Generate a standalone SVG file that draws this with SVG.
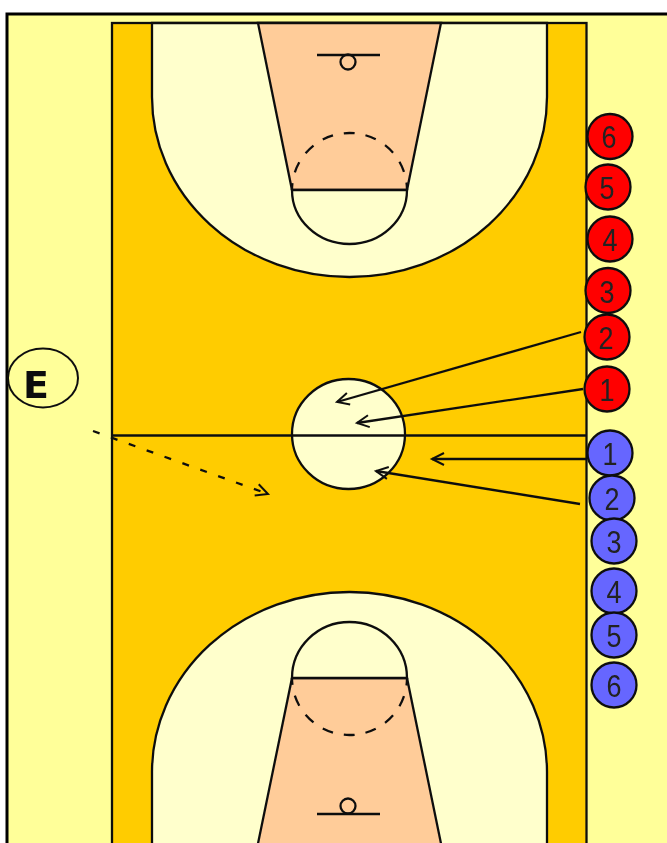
<svg xmlns="http://www.w3.org/2000/svg" width="667" height="843" viewBox="0 0 667 843">
<style>
.l{stroke:#111;stroke-width:2.300;fill:none}
.arc{fill:#FFFFCC;stroke:#111;stroke-width:2.300}
.key{fill:#FFCC99;stroke:#111;stroke-width:2.300}
.d{stroke:#111;stroke-width:2.300;fill:none;stroke-dasharray:11 11}
.c{stroke:#111;stroke-width:2.300;fill:none;marker-end:url(#h)}
.r{fill:#FF0000;stroke:#111;stroke-width:2.300}
.b{fill:#6666FF;stroke:#111;stroke-width:2.300}
.n{font-family:"Liberation Sans",Arial,sans-serif;font-size:32px;fill:#222;text-anchor:middle}
</style>
<defs>
<filter id="s" filterUnits="userSpaceOnUse" x="0" y="0" width="667" height="843"><feGaussianBlur stdDeviation="0.4"/></filter>
<marker id="h" markerUnits="userSpaceOnUse" markerWidth="24" markerHeight="24" refX="15" refY="8" orient="auto">
<path d="M3 2L15 8L3 14" fill="none" stroke="#111" stroke-width="2"/>
</marker>
</defs>
<rect width="667" height="843" fill="#fff"/>
<g filter="url(#s)">
<g id="court">
<rect x="7" y="14" width="680" height="850" fill="#FFFF99" stroke="#000" stroke-width="3"/>
<rect x="112" y="23" width="474.500" height="840" fill="#FFCC00" stroke="#111" stroke-width="2.300"/>
<path class="arc" d="M152 23V97A197.500 180 0 0 0 547 97V23Z"/>
<path class="key" d="M258 23L292 190H407L441 23Z"/>
<path class="arc" d="M292 190A57.500 54 0 0 0 407 190Z"/>
<path class="d" stroke-dashoffset="4" d="M292 190A57.500 57 0 0 1 407 190"/>
<path class="l" d="M317 55H380"/>
<circle class="l" cx="348" cy="62" r="7.500"/>
<ellipse class="arc" cx="348.500" cy="434" rx="56.500" ry="55"/>
<path class="l" d="M112 435.500H586"/>
<path class="arc" d="M152 863V772A197.500 180 0 0 1 547 772V863Z"/>
<path class="key" d="M254 863L292 678H407L445 863Z"/>
<path class="arc" d="M292 678A57.500 56 0 0 1 407 678Z"/>
<path class="d" stroke-dashoffset="4" d="M292 678A57.500 57 0 0 0 407 678"/>
<path class="l" d="M317 814H380"/>
<circle class="l" cx="348" cy="806" r="7.500"/>
</g>
<g id="connectors">
<path class="c" d="M581 332L337 402"/>
<path class="c" d="M583 389L357 423"/>
<path class="c" d="M586 459L432 459"/>
<path class="c" d="M580 504L376 471"/>
<path class="d" d="M93 431L268 494" style="stroke-dasharray:7 12;marker-end:url(#h)"/>
</g>
<g id="coach"><ellipse cx="43" cy="378" rx="35" ry="29.500" fill="none" stroke="#111" stroke-width="2"/>
<text x="36" y="398" style="font-family:'DejaVu Sans',sans-serif;font-weight:700;font-size:38px;text-anchor:middle;fill:#111">E</text></g>
<g id="red-6"><circle class="r" cx="610" cy="136.500" r="22.500"/><text class="n" x="609" y="148" textLength="15" lengthAdjust="spacingAndGlyphs">6</text></g>
<g id="red-5"><circle class="r" cx="608" cy="187" r="22.500"/><text class="n" x="607" y="199" textLength="15" lengthAdjust="spacingAndGlyphs">5</text></g>
<g id="red-4"><circle class="r" cx="610" cy="239" r="22.500"/><text class="n" x="610" y="251" textLength="15" lengthAdjust="spacingAndGlyphs">4</text></g>
<g id="red-3"><circle class="r" cx="608" cy="290.500" r="22.500"/><text class="n" x="607" y="303" textLength="15" lengthAdjust="spacingAndGlyphs">3</text></g>
<g id="red-2"><circle class="r" cx="607" cy="337" r="22.500"/><text class="n" x="606" y="349" textLength="15" lengthAdjust="spacingAndGlyphs">2</text></g>
<g id="red-1"><circle class="r" cx="607" cy="389" r="22.500"/><text class="n" x="607" y="401" textLength="15" lengthAdjust="spacingAndGlyphs">1</text></g>
<g id="blue-1"><circle class="b" cx="610" cy="453" r="22.500"/><text class="n" x="610" y="465" textLength="15" lengthAdjust="spacingAndGlyphs">1</text></g>
<g id="blue-2"><circle class="b" cx="612" cy="498" r="22.500"/><text class="n" x="612" y="510" textLength="15" lengthAdjust="spacingAndGlyphs">2</text></g>
<g id="blue-3"><circle class="b" cx="614" cy="541" r="22.500"/><text class="n" x="614" y="553" textLength="15" lengthAdjust="spacingAndGlyphs">3</text></g>
<g id="blue-4"><circle class="b" cx="614" cy="591" r="22.500"/><text class="n" x="614" y="603" textLength="15" lengthAdjust="spacingAndGlyphs">4</text></g>
<g id="blue-5"><circle class="b" cx="614" cy="635" r="22.500"/><text class="n" x="614" y="647" textLength="15" lengthAdjust="spacingAndGlyphs">5</text></g>
<g id="blue-6"><circle class="b" cx="614" cy="685" r="22.500"/><text class="n" x="614" y="697" textLength="15" lengthAdjust="spacingAndGlyphs">6</text></g>
</g>
</svg>
